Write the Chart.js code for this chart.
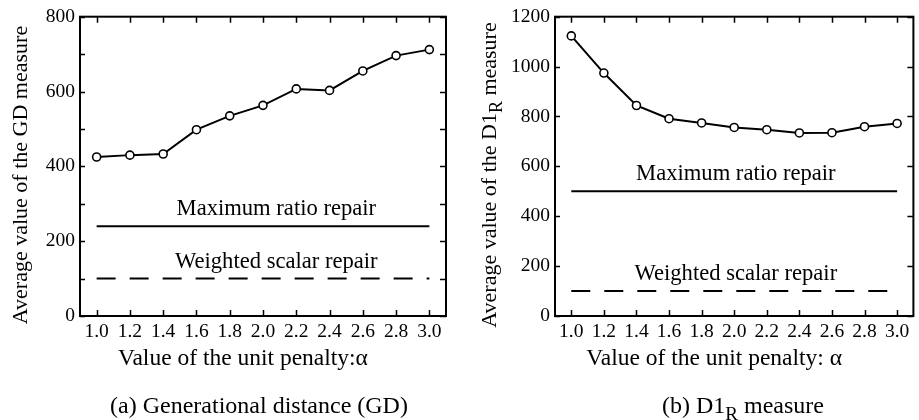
<!DOCTYPE html>
<html>
<head>
<meta charset="utf-8">
<title>Unit penalty comparison</title>
<script src="https://cdn.jsdelivr.net/npm/chart.js@4.4.0/dist/chart.umd.min.js"></script>
<style>
  body { margin: 0; background: #fff; }
  .panel { position: absolute; top: 0; }
</style>
</head>
<body>
<canvas id="gdChart" class="panel" width="460" height="420" style="left:0"></canvas>
<canvas id="d1rChart" class="panel" width="459" height="420" style="left:460px"></canvas>
<script>
// unit penalty values (x) and their tick labels
const alphas = [1.0, 1.2, 1.4, 1.6, 1.8, 2.0, 2.2, 2.4, 2.6, 2.8, 3.0];
const xTickLabels = ['1.0', '1.2', '1.4', '1.6', '1.8', '2.0', '2.2', '2.4', '2.6', '2.8', '3.0'];

// average GD measure per alpha, plus the two repair baselines
const gdValues = [425, 430, 433, 498, 535, 563, 607, 603, 655, 696, 712];
const gdMaxRatio = 240;
const gdWeighted = 100;
const gdYTicks = [0, 100, 200, 300, 400, 500, 600, 700, 800];

// average D1_R measure per alpha, plus the two repair baselines
const d1rValues = [1123, 974, 844, 791, 774, 756, 747, 734, 735, 759, 772];
const d1rMaxRatio = 500;
const d1rWeighted = 100;
const d1rYTicks = [0, 100, 200, 300, 400, 500, 600, 700, 800, 900, 1000, 1100, 1200];

const FONT = '"Liberation Serif", "Times New Roman", serif';

// draws text made of pieces, some of them as subscripts
function drawRich(ctx, parts, size, x, y, align) {
  const subSize = Math.round(size * 0.8);
  const widths = parts.map(([t, sub]) => {
    ctx.font = `${sub ? subSize : size}px ${FONT}`;
    return ctx.measureText(t).width;
  });
  const total = widths.reduce((s, w) => s + w, 0);
  let cx = align === 'center' ? x - total / 2 : x;
  ctx.textAlign = 'left';
  ctx.textBaseline = 'alphabetic';
  parts.forEach(([t, sub], i) => {
    ctx.font = `${sub ? subSize : size}px ${FONT}`;
    ctx.fillText(t, cx, sub ? y + size * 0.28 : y);
    cx += widths[i];
  });
}

// frame with inward ticks on all four sides, repair labels, axis titles and caption
const decorations = {
  id: 'decorations',
  afterDatasetsDraw(chart, args, opts) {
    const { ctx, chartArea: a, scales: { x, y } } = chart;
    ctx.save();
    ctx.strokeStyle = '#000';
    ctx.fillStyle = '#000';

    ctx.lineWidth = 1.5;
    ctx.beginPath();
    x.ticks.forEach(t => {
      const px = Math.round(x.getPixelForValue(t.value)) + 0.5;
      ctx.moveTo(px, a.bottom); ctx.lineTo(px, a.bottom - 6);
      ctx.moveTo(px, a.top); ctx.lineTo(px, a.top + 6);
    });
    y.ticks.forEach(t => {
      const py = Math.round(y.getPixelForValue(t.value)) + 0.5;
      ctx.moveTo(a.left, py); ctx.lineTo(a.left + 5, py);
      ctx.moveTo(a.right, py); ctx.lineTo(a.right - 6, py);
    });
    ctx.stroke();

    ctx.lineWidth = 2;
    ctx.strokeRect(a.left, a.top, a.right - a.left, a.bottom - a.top);

    // names of the two repair baselines, just above their lines
    const lx = x.getPixelForValue(opts.labelAlpha);
    opts.baselines.forEach(([name, value]) => {
      drawRich(ctx, [[name, false]], 22.6, lx, y.getPixelForValue(value) - 11, 'center');
    });

    // x axis title
    drawRich(ctx, [['Value of the unit penalty:' + opts.alphaGap + 'α', false]], 23.5,
      (a.left + a.right) / 2 - 20, 365, 'center');

    // y axis title, rotated
    ctx.save();
    ctx.translate(opts.yTitleX, 175);
    ctx.rotate(-Math.PI / 2);
    drawRich(ctx, opts.yTitle, 22, 0, 0, 'center');
    ctx.restore();

    drawRich(ctx, opts.caption, 24, opts.captionX, 413, 'center');
    ctx.restore();
  }
};

function makeChart(canvasId, values, maxRatio, weighted, yTicks, yMax, panel) {
  const points = alphas.map((a, i) => ({ x: a, y: values[i] }));
  const ends = [alphas[0], alphas[alphas.length - 1]];
  return new Chart(document.getElementById(canvasId), {
    type: 'line',
    data: {
      datasets: [
        {
          data: points,
          borderColor: '#000',
          borderWidth: 2,
          pointRadius: 4,
          pointBorderWidth: 1.6,
          pointBackgroundColor: '#fff',
          pointBorderColor: '#000',
          tension: 0
        },
        {
          data: ends.map(a => ({ x: a, y: maxRatio })),
          borderColor: '#000',
          borderWidth: 2,
          pointRadius: 0
        },
        {
          data: ends.map(a => ({ x: a, y: weighted })),
          borderColor: '#000',
          borderWidth: 2,
          borderDash: [19, 14],
          pointRadius: 0
        }
      ]
    },
    options: {
      responsive: false,
      animation: false,
      layout: { padding: panel.padding },
      plugins: {
        legend: { display: false },
        tooltip: { enabled: false },
        decorations: {
          labelAlpha: panel.labelAlpha,
          baselines: [['Maximum ratio repair', maxRatio], ['Weighted scalar repair', weighted]],
          alphaGap: panel.alphaGap,
          yTitle: panel.yTitle,
          yTitleX: panel.yTitleX,
          caption: panel.caption,
          captionX: panel.captionX
        }
      },
      scales: {
        x: {
          type: 'linear',
          min: 0.9,
          max: 3.1,
          afterBuildTicks: s => { s.ticks = alphas.map(v => ({ value: v })); },
          afterFit: s => { s.height = 30; },
          grid: { display: false, drawTicks: false },
          border: { display: false },
          ticks: {
            autoSkip: false,
            maxRotation: 0,
            padding: 4,
            color: '#000',
            font: { family: FONT, size: 19.5 },
            callback: (v, i) => xTickLabels[i]
          }
        },
        y: {
          min: 0,
          max: yMax,
          afterBuildTicks: s => { s.ticks = yTicks.map(v => ({ value: v })); },
          afterFit: s => { s.width = panel.yWidth; },
          grid: { display: false, drawTicks: false },
          border: { display: false },
          ticks: {
            padding: 5,
            color: '#000',
            font: { family: FONT, size: 19.5 },
            callback: v => (v % 200 === 0 ? String(v) : '')
          }
        }
      }
    },
    plugins: [decorations]
  });
}

makeChart('gdChart', gdValues, gdMaxRatio, gdWeighted, gdYTicks, 800, {
  padding: { left: 0, right: 14, top: 16, bottom: 74 },
  yWidth: 80,
  labelAlpha: 2.08,
  alphaGap: '',
  yTitle: [['Average value of the GD measure', false]],
  yTitleX: 27,
  caption: [['(a) Generational distance (GD)', false]],
  captionX: 259
});

makeChart('d1rChart', d1rValues, d1rMaxRatio, d1rWeighted, d1rYTicks, 1200, {
  padding: { left: 0, right: 1, top: 16, bottom: 74 },
  yWidth: 95,
  labelAlpha: 2.01,
  alphaGap: ' ',
  yTitle: [['Average value of the D1', false], ['R', true], [' measure', false]],
  yTitleX: 36,
  caption: [['(b) D1', false], ['R', true], [' measure', false]],
  captionX: 283
});
</script>
</body>
</html>
